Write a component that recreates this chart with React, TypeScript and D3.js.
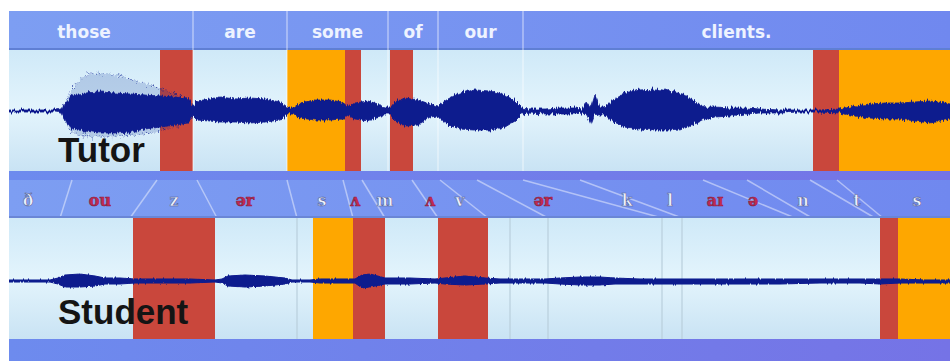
import * as d3 from "d3";

// time axis of both recordings, in ms from the left edge of the view
const viewMs = [0, 941];

// tutor words (top header)
const words = ["those", "are", "some", "of", "our", "clients."];
const wordStarts = [-34, 184, 278, 379, 429, 514];
const wordEnds = [184, 278, 379, 429, 514, 941];

// highlighted regions: [start, end, kind]
const tutorMarks: [number, number, string][] = [
  [151, 184, "miss"],
  [278, 336, "warn"],
  [336, 352, "miss"],
  [381, 404, "miss"],
  [804, 830, "miss"],
  [830, 941, "warn"],
];
const studentMarks: [number, number, string][] = [
  [124, 206, "miss"],
  [304, 344, "warn"],
  [344, 376, "miss"],
  [429, 479, "miss"],
  [871, 889, "miss"],
  [889, 941, "warn"],
];

// student phoneme labels (ms position, symbol, vowel?)
const phonemes = ["ð", "ou", "z", "ər", "s", "ʌ", "m", "ʌ", "v", "ər", "k", "l", "aɪ", "ə", "n", "t", "s"];
const phonemeAt = [19, 91, 165, 236, 313, 346, 376, 421, 451, 534, 618, 661, 706, 744, 794, 848, 908];
const phonemeVowel = [false, true, false, true, false, true, false, true, false, true, false, false, true, true, false, false, false];

// alignment of tutor boundaries (top) to student boundaries (bottom)
const alignTutor = [63, 148, 188, 278, 334, 353, 403, 431, 468, 514, 571, 694, 738, 801, 828];
const alignStudent = [51, 121, 208, 288, 344, 376, 429, 479, 539, 653, 673, 786, 803, 866, 874];

// faint boundary lines in the student panel
const studentTicks = [288, 501, 539, 653, 673];

// waveform envelopes: [ms, upper amplitude, lower amplitude]
const tutorEnvelope: [number, number, number][] = [
  [0, 1, 1], [46, 1, 1], [53, 2, 2], [57, 8, 10], [63, 16, 18], [76, 18, 20], [91, 19, 22],
  [106, 18, 22], [121, 17, 21], [136, 16, 18], [151, 15, 16], [166, 14, 14], [179, 13, 12],
  [184, 5, 5], [188, 10, 9], [201, 12, 10], [211, 14, 11], [226, 12, 11], [241, 13, 12],
  [256, 12, 11], [271, 9, 9], [278, 3, 3], [284, 3, 3], [291, 8, 7], [306, 11, 9], [321, 11, 9],
  [333, 9, 8], [339, 4, 4], [346, 8, 8], [359, 10, 10], [369, 7, 6], [376, 3, 3], [381, 3, 3],
  [386, 9, 10], [396, 13, 15], [409, 11, 14], [421, 7, 6], [429, 5, 5], [439, 12, 14],
  [451, 18, 18], [466, 21, 19], [481, 20, 19], [496, 16, 16], [506, 10, 10], [513, 3, 3],
  [521, 2, 2], [536, 2, 3], [551, 3, 3], [566, 3, 3], [573, 2, 2], [578, 9, 4], [582, 3, 14],
  [586, 16, 3], [590, 4, 4], [596, 4, 4], [603, 10, 10], [616, 18, 16], [631, 21, 18],
  [646, 22, 19], [661, 20, 19], [676, 16, 17], [688, 8, 12], [696, 4, 8], [706, 4, 6],
  [721, 3, 5], [736, 3, 3], [751, 2, 2], [771, 1, 2], [791, 1, 1], [811, 1, 1], [831, 2, 2],
  [846, 5, 5], [861, 7, 7], [876, 8, 8], [891, 8, 8], [906, 9, 10], [921, 10, 12],
  [936, 8, 9], [941, 7, 8],
];
// sparse outer peaks of the tutor signal on "those"
const tutorPeaks: [number, number, number][] = [
  [53, 2, 2], [61, 18, 20], [69, 30, 24], [81, 38, 26], [96, 37, 26], [111, 35, 25],
  [126, 30, 24], [141, 26, 22], [156, 21, 19], [171, 15, 14], [184, 5, 5],
];
const studentEnvelope: [number, number, number][] = [
  [0, 1, 1], [41, 1, 1], [49, 3, 3], [56, 6, 6], [71, 7, 6], [86, 5, 5], [96, 3, 3],
  [111, 3, 3], [126, 2, 2], [151, 2, 2], [181, 2, 2], [206, 1, 1], [213, 2, 2], [219, 5, 5],
  [236, 6, 6], [256, 5, 5], [276, 3, 3], [283, 1, 1], [301, 1, 1], [311, 2, 2], [331, 2, 2],
  [346, 2, 2], [353, 6, 7], [361, 7, 6], [376, 3, 3], [401, 3, 3], [426, 2, 2], [436, 3, 3],
  [456, 5, 4], [476, 3, 3], [491, 2, 2], [511, 2, 2], [536, 2, 2], [551, 3, 3], [571, 4, 4],
  [591, 4, 4], [606, 3, 3], [631, 2, 3], [661, 2, 3], [691, 2, 3], [731, 2, 3], [771, 2, 3],
  [811, 2, 2], [851, 2, 2], [871, 2, 3], [891, 2, 2], [916, 1, 2], [941, 1, 2],
];

const markColor: Record<string, string> = { miss: "#c9473c", warn: "#fea700" };
const wave = "#0b1a8e";

export default function App() {
  const W = 950;
  const H = 361;
  const x = d3.scaleLinear().domain(viewMs).range([9, 950]);

  const tutorTop = 50, tutorBottom = 171;
  const phTop = 180, phBottom = 218;
  const studentTop = 218, studentBottom = 339;

  const tutorY = d3.scaleLinear().domain([-40, 40]).range([111 + 40, 111 - 40]);
  const studentY = d3.scaleLinear().domain([-40, 40]).range([281 + 40, 281 - 40]);

  const areaFor = (y: d3.ScaleLinear<number, number>) =>
    d3
      .area<[number, number, number]>()
      .x((d) => x(d[0]))
      .y0((d) => y(-d[2]))
      .y1((d) => y(d[1]))
      .curve(d3.curveLinear);

  const tutorArea = areaFor(tutorY);
  const studentArea = areaFor(studentY);

  return (
    <svg
      width={W}
      height={H}
      viewBox={`0 0 ${W} ${H}`}
      style={{ position: "absolute", left: 0, top: 0, display: "block", background: "#fff" }}
    >
      <defs>
        <linearGradient id="panelBg" x1="0" y1="0" x2="0" y2="1">
          <stop offset="0%" stopColor="#cfe9f8" />
          <stop offset="50%" stopColor="#e3f4fc" />
          <stop offset="100%" stopColor="#c9e3f4" />
        </linearGradient>
        <linearGradient id="headBg" x1="0" y1="0" x2="1" y2="0">
          <stop offset="0%" stopColor="#7d9ef2" />
          <stop offset="100%" stopColor="#7088ef" />
        </linearGradient>
        <linearGradient id="bandBg" x1="0" y1="0" x2="1" y2="0">
          <stop offset="0%" stopColor="#6d8bee" />
          <stop offset="100%" stopColor="#7573e6" />
        </linearGradient>
        <filter id="rough" x="0" y="-30%" width="100%" height="160%">
          <feTurbulence type="fractalNoise" baseFrequency="0.7 0.04" numOctaves={1} seed={4} result="n" />
          <feDisplacementMap in="SourceGraphic" in2="n" scale={7} xChannelSelector="R" yChannelSelector="G" />
        </filter>
        <filter id="roughPeak" x="0" y="-30%" width="100%" height="160%">
          <feTurbulence type="fractalNoise" baseFrequency="0.5 0.3" numOctaves={2} seed={9} result="n" />
          <feDisplacementMap in="SourceGraphic" in2="n" scale={9} xChannelSelector="R" yChannelSelector="G" />
        </filter>
        <filter id="roughSoft" x="0" y="-60%" width="100%" height="220%">
          <feTurbulence type="fractalNoise" baseFrequency="0.6 0.05" numOctaves={1} seed={7} result="n" />
          <feDisplacementMap in="SourceGraphic" in2="n" scale={3} xChannelSelector="R" yChannelSelector="G" />
        </filter>
        <clipPath id="view">
          <rect x={9} y={0} width={941} height={H} />
        </clipPath>
      </defs>

      <g clipPath="url(#view)">
        {/* word header */}
        <rect x={9} y={11} width={941} height={tutorTop - 11} fill="url(#headBg)" />
        <rect x={9} y={tutorTop - 2} width={941} height={2} fill="#5f7fd4" />

        {/* tutor panel */}
        <rect x={9} y={tutorTop} width={941} height={tutorBottom - tutorTop} fill="url(#panelBg)" />
        {tutorMarks.map((m, i) => (
          <rect
            key={"tm" + i}
            x={x(m[0])}
            y={tutorTop}
            width={x(m[1]) - x(m[0])}
            height={tutorBottom - tutorTop}
            fill={markColor[m[2]]}
          />
        ))}
        {wordStarts.slice(1).map((s, i) => (
          <line key={"wl" + i} x1={x(s)} x2={x(s)} y1={11} y2={tutorBottom} stroke="#ffffff" strokeOpacity={0.45} strokeWidth={1.5} />
        ))}
        <path
          d={tutorArea(tutorPeaks) ?? ""}
          fill={wave}
          fillOpacity={0.18}
          stroke={wave}
          strokeOpacity={0.7}
          strokeWidth={1}
          strokeDasharray="1.5 2.5"
          filter="url(#roughPeak)"
        />
        <path d={tutorArea(tutorEnvelope) ?? ""} fill={wave} stroke={wave} strokeWidth={0.8} filter="url(#rough)" />

        {words.map((w, i) => (
          <text
            key={w}
            x={x((wordStarts[i] + wordEnds[i]) / 2)}
            y={38}
            textAnchor="middle"
            fontFamily="DejaVu Sans, sans-serif"
            fontWeight="bold"
            fontSize={17}
            fill="#eef3ff"
          >
            {w}
          </text>
        ))}
        <text x={58} y={162} fontFamily="Liberation Sans, Arial, sans-serif" fontWeight="bold" fontSize={35} fill="#141414">
          Tutor
        </text>

        {/* middle band + phoneme header */}
        <rect x={9} y={tutorBottom} width={941} height={phTop - tutorBottom} fill="url(#bandBg)" />
        <rect x={9} y={phTop} width={941} height={phBottom - phTop} fill="url(#headBg)" />
        {alignTutor.map((t, i) => (
          <line
            key={"al" + i}
            x1={x(t)}
            y1={phTop}
            x2={x(alignStudent[i])}
            y2={phBottom}
            stroke="#ffffff"
            strokeOpacity={0.45}
            strokeWidth={1.5}
          />
        ))}
        <rect x={9} y={phBottom - 2} width={941} height={2} fill="#6a86d6" />
        {phonemes.map((p, i) => (
          <text
            key={"ph" + i}
            x={x(phonemeAt[i])}
            y={206}
            textAnchor="middle"
            fontFamily="DejaVu Serif, serif"
            fontWeight="bold"
            fontSize={16}
            fill={phonemeVowel[i] ? "#c42a52" : "#eef2fb"}
            stroke={phonemeVowel[i] ? "#8a2040" : "#56659e"}
            strokeWidth={0.6}
          >
            {p}
          </text>
        ))}

        {/* student panel */}
        <rect x={9} y={studentTop} width={941} height={studentBottom - studentTop} fill="url(#panelBg)" />
        {studentMarks.map((m, i) => (
          <rect
            key={"sm" + i}
            x={x(m[0])}
            y={studentTop}
            width={x(m[1]) - x(m[0])}
            height={studentBottom - studentTop}
            fill={markColor[m[2]]}
          />
        ))}
        {studentTicks.map((t, i) => (
          <line key={"st" + i} x1={x(t)} x2={x(t)} y1={studentTop} y2={studentBottom} stroke="#b9cfdc" strokeWidth={1.2} />
        ))}
        <path d={studentArea(studentEnvelope) ?? ""} fill={wave} stroke={wave} strokeWidth={1} filter="url(#roughSoft)" />
        <text x={58} y={324} fontFamily="Liberation Sans, Arial, sans-serif" fontWeight="bold" fontSize={35} fill="#141414">
          Student
        </text>

        {/* bottom band */}
        <rect x={9} y={studentBottom} width={941} height={H - studentBottom} fill="url(#bandBg)" />
      </g>
    </svg>
  );
}
